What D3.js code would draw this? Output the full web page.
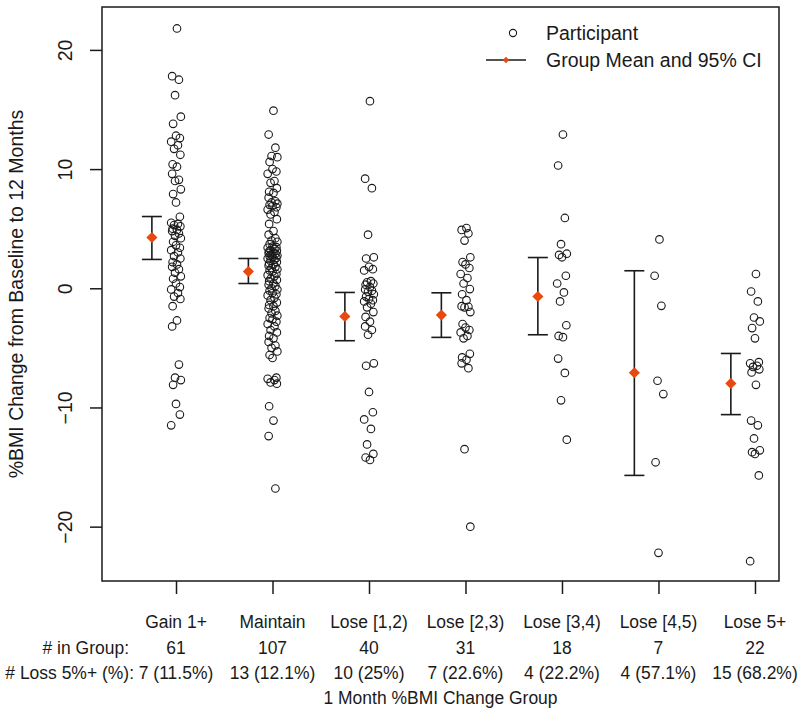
<!DOCTYPE html>
<html>
<head>
<meta charset="utf-8">
<script src="https://cdn.jsdelivr.net/npm/d3@7"></script>
<style>
  body { margin: 0; background: #fff; }
  svg text { font-family: "Liberation Sans", Arial, sans-serif; fill: #1a1a1a; }
</style>
</head>
<body>
<svg id="chart" width="800" height="715"></svg>
<script>
// group labels and summary rows under the axis
const categories = ["Gain 1+", "Maintain", "Lose [1,2)", "Lose [2,3)", "Lose [3,4)", "Lose [4,5)", "Lose 5+"];
const groupCounts = [61, 107, 40, 31, 18, 7, 22];
const lossLabels = ["7 (11.5%)", "13 (12.1%)", "10 (25%)", "7 (22.6%)", "4 (22.2%)", "4 (57.1%)", "15 (68.2%)"];

// group mean and 95% CI
const groupMeans = [4.26, 1.41, -2.36, -2.25, -0.69, -7.09, -7.98];
const ciLower = [2.42, 0.40, -4.40, -4.12, -3.90, -15.7, -10.6];
const ciUpper = [6.02, 2.50, -0.35, -0.38, 2.58, 1.47, -5.47];

const yTicks = [-20, -10, 0, 10, 20];

// participant values, one array per group
const gainPts = [21.8, 17.8, 17.5, 16.2, 14.4, 13.8, 12.8, 12.6, 12.3, 12.0, 11.7, 11.2, 10.4, 10.2, 9.6, 9.1, 9.0, 8.3, 7.9, 7.2,
  6.0, 5.5, 5.4, 5.3, 5.2, 5.0, 4.9, 4.8, 4.6, 4.4, 4.2, 3.9, 3.6, 3.4, 3.2, 3.0, 2.7, 2.5, 2.2, 2.0, 1.8, 1.6, 1.3, 1.0, 0.8,
  0.4, 0.1, -0.1, -0.4, -0.7, -0.9, -1.5, -2.7, -3.2, -6.4, -7.5, -7.7, -8.1, -9.7, -10.6, -11.5];
const maintainPts = [14.9, 12.9, 11.8, 11.1, 11.0, 10.6, 10.0, 9.8, 9.6, 9.0, 8.85, 8.4, 8.1, 8.0, 7.6,
  7.3, 7.2, 7.1, 7.0, 6.9, 6.8, 6.6, 6.4, 6.2, 5.8, 5.4, 4.8, 4.5, 4.2, 4.0, 3.9, 3.7,
  3.5, 3.45, 3.4, 3.3, 3.2, 3.15, 3.1, 3.0, 2.95, 2.9, 2.8, 2.75, 2.7, 2.6, 2.55, 2.5, 2.4, 2.3, 2.2, 2.1, 2.0, 1.9, 1.8,
  1.7, 1.6, 1.5, 1.4, 1.2, 1.1, 1.0, 0.8, 0.7, 0.6, 0.4, 0.3, 0.2, 0.0, -0.1, -0.2, -0.4, -0.5, -0.6, -0.8, -1.0, -1.2,
  -1.4, -1.5, -1.7, -1.9, -2.1, -2.3, -2.5, -2.6, -2.8, -3.0, -3.2, -3.5, -3.7, -4.0, -4.2, -4.5, -4.8, -5.0, -5.3, -5.6,
  -5.85, -7.5, -7.6, -7.7, -7.9, -8.0, -9.9, -11.1, -12.4, -16.8];
const lose12Pts = [15.7, 9.2, 8.4, 4.5, 2.6, 2.5, 1.8, 1.6, 1.5, 0.6, 0.5, 0.4, 0.3, 0.1, -0.1, -0.2, -0.3, -0.5, -0.7, -0.9,
  -1.0, -1.1, -1.3, -1.6, -2.0, -2.4, -2.8, -3.2, -3.5, -3.9, -6.3, -6.5, -8.7, -10.4, -11.0, -11.8, -13.1, -13.9, -14.2, -14.4];
const lose23Pts = [5.05, 4.9, 4.6, 4.0, 2.6, 2.2, 2.0, 1.7, 1.2, 0.86, 0.4, -0.07, -0.5, -1.0, -1.5, -1.55, -1.6, -2.0,
  -3.0, -3.3, -3.5, -3.7, -4.0, -4.2, -5.5, -5.8, -6.0, -6.3, -6.7, -13.5, -20.0];
const lose34Pts = [12.9, 10.3, 5.9, 3.7, 2.9, 2.8, 2.6, 1.05, 0.4, -0.35, -1.1, -3.1, -4.0, -4.1, -5.9, -7.1, -9.4, -12.7];
const lose45Pts = [4.1, 1.05, -1.47, -7.76, -8.88, -14.6, -22.2];
const lose5Pts = [1.2, -0.27, -1.1, -2.45, -2.78, -3.34, -4.2, -6.2, -6.3, -6.5, -6.6, -6.8, -7.06, -8.1, -11.1, -11.5,
  -12.6, -13.6, -13.75, -13.9, -15.7, -22.9];

const groupPoints = [gainPts, maintainPts, lose12Pts, lose23Pts, lose34Pts, lose45Pts, lose5Pts];

// small horizontal spread used by the strip chart (category units)
const jitterPattern = [0.01, -0.04, 0.03, -0.01, 0.05, -0.03, 0.0, 0.04, -0.05, 0.02, -0.02, 0.045, -0.035];

const svg = d3.select("#chart");
const orange = "#e8490f";
const ink = "#1a1a1a";

const x = d3.scaleLinear().domain([0.233, 7.249]).range([102, 779]);
const y = d3.scaleLinear().domain([-24.56, 23.6]).range([581, 7]);

// participants
const pts = [];
groupPoints.forEach((arr, g) => {
  arr.forEach((v, i) => pts.push({ g: g + 1, v: v, j: jitterPattern[i % jitterPattern.length] }));
});

svg.append("g").selectAll("circle")
  .data(pts)
  .join("circle")
  .attr("cx", d => x(d.g + d.j))
  .attr("cy", d => y(d.v))
  .attr("r", 3.8)
  .attr("fill", "none")
  .attr("stroke", ink)
  .attr("stroke-width", 1.1);

// mean and CI
const summary = categories.map((c, i) => ({ i: i + 1, m: groupMeans[i], lo: ciLower[i], hi: ciUpper[i] }));
const ci = svg.append("g").attr("stroke", ink).attr("stroke-width", 1.6);
ci.selectAll(".v").data(summary).join("line")
  .attr("x1", d => x(d.i - 0.25)).attr("x2", d => x(d.i - 0.25))
  .attr("y1", d => y(d.lo)).attr("y2", d => y(d.hi));
ci.selectAll(".top").data(summary).join("line")
  .attr("x1", d => x(d.i - 0.25) - 10).attr("x2", d => x(d.i - 0.25) + 10)
  .attr("y1", d => y(d.hi)).attr("y2", d => y(d.hi));
ci.selectAll(".bot").data(summary).join("line")
  .attr("x1", d => x(d.i - 0.25) - 10).attr("x2", d => x(d.i - 0.25) + 10)
  .attr("y1", d => y(d.lo)).attr("y2", d => y(d.lo));

const diamond = d3.symbol().type(d3.symbolSquare).size(62);
svg.append("g").selectAll("path")
  .data(summary)
  .join("path")
  .attr("d", diamond)
  .attr("transform", d => `translate(${x(d.i - 0.25)},${y(d.m)}) rotate(45)`)
  .attr("fill", orange);

// box
svg.append("rect")
  .attr("x", 102).attr("y", 7).attr("width", 677).attr("height", 574)
  .attr("fill", "none").attr("stroke", ink).attr("stroke-width", 1.5);

// y axis
const yAxis = svg.append("g")
  .attr("transform", "translate(102,0)")
  .call(d3.axisLeft(y).tickValues(yTicks).tickSize(12).tickFormat(d3.format("d")));
yAxis.select(".domain").remove();
yAxis.selectAll("line").attr("stroke", ink).attr("stroke-width", 1.5);
yAxis.selectAll("text")
  .attr("x", null).attr("dy", "0.35em")
  .attr("text-anchor", "middle")
  .attr("transform", "translate(-37,0) rotate(-90)")
  .style("font-size", "19.5px")
  .style("font-family", '"Liberation Sans", Arial, sans-serif')
  .attr("fill", ink);

// x axis ticks
const xAxis = svg.append("g")
  .attr("transform", "translate(0,581)")
  .call(d3.axisBottom(x).tickValues(d3.range(1, 8)).tickSize(13).tickFormat(""));
xAxis.select(".domain").remove();
xAxis.selectAll("line").attr("stroke", ink).attr("stroke-width", 1.5);

// rows of labels under the axis (condensed looking text)
function rowText(sel, tx, ty, txt, anchor) {
  sel.append("text")
    .attr("transform", `translate(${tx},${ty}) scale(0.92,1)`)
    .attr("dy", "0.35em")
    .attr("text-anchor", anchor)
    .style("font-size", "19px")
    .text(txt);
}
const rows = svg.append("g");
categories.forEach((c, i) => {
  rowText(rows, x(i + 1), 621, c, "middle");
  rowText(rows, x(i + 1), 647, String(groupCounts[i]), "middle");
  rowText(rows, x(i + 1), 672, lossLabels[i], "middle");
});
rowText(rows, 129, 647, "# in Group:", "end");
rowText(rows, 134, 672, "# Loss 5%+ (%):", "end");
rowText(rows, 440.5, 697, "1 Month %BMI Change Group", "middle");

// y title
svg.append("text")
  .attr("transform", "translate(16,294) rotate(-90)")
  .attr("dy", "0.35em")
  .attr("text-anchor", "middle")
  .style("font-size", "19.5px")
  .text("%BMI Change from Baseline to 12 Months");

// legend
const lg = svg.append("g");
lg.append("circle").attr("cx", 513).attr("cy", 33).attr("r", 3.6)
  .attr("fill", "none").attr("stroke", ink).attr("stroke-width", 1.1);
lg.append("line").attr("x1", 486).attr("x2", 526).attr("y1", 60).attr("y2", 60)
  .attr("stroke", ink).attr("stroke-width", 1.5);
lg.append("path").attr("d", d3.symbol().type(d3.symbolSquare).size(20))
  .attr("transform", "translate(506,60) rotate(45)").attr("fill", orange);
lg.append("text").attr("x", 546).attr("y", 33).attr("dy", "0.35em")
  .style("font-size", "19.5px").text("Participant");
lg.append("text").attr("x", 546).attr("y", 60).attr("dy", "0.35em")
  .style("font-size", "19.5px").text("Group Mean and 95% CI");
</script>
</body>
</html>
